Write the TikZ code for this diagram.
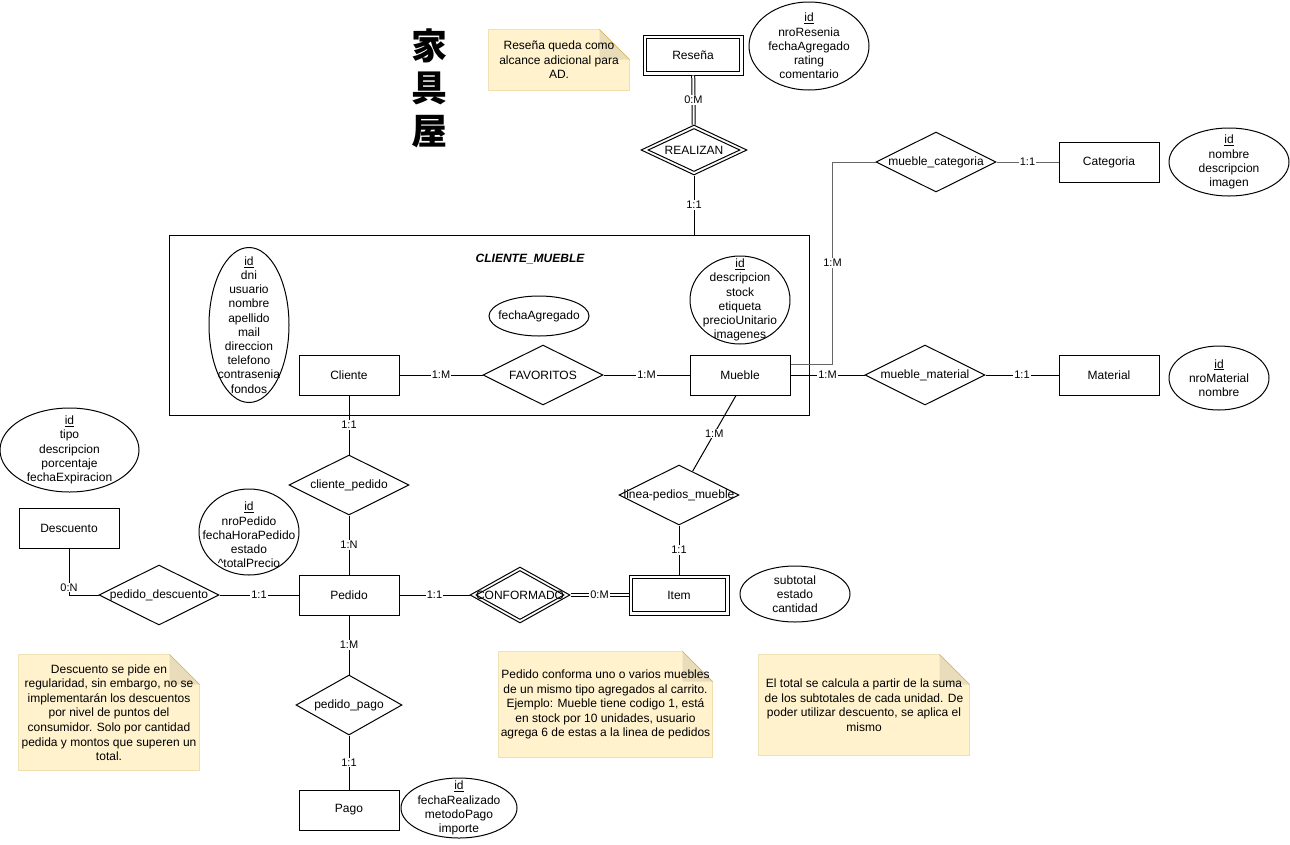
\documentclass[tikz,border=0pt]{standalone}
\usepackage{fontspec}
\setmainfont{Liberation Sans}
\newfontfamily\cjkfont{Noto Sans CJK JP}
\usetikzlibrary{shapes.geometric,backgrounds}
\definecolor{notefill}{HTML}{FFF2CC}
\definecolor{noteline}{HTML}{D6B656}
\definecolor{notefold}{HTML}{E8DCBA}
\definecolor{linkgray}{HTML}{666666}
\tikzset{
  every node/.style={font=\fontsize{12}{14}\selectfont},
  entity/.style={draw, minimum width=100pt, minimum height=40pt, inner sep=0pt},
  relation/.style={draw, diamond, inner sep=0pt, minimum width=120pt, minimum height=60pt},
  attrib/.style={draw, ellipse, inner sep=0pt},
  attrtext/.style={align=center, font=\fontsize{12}{14.2}\selectfont},
  card/.style={fill=white, inner sep=1pt, font=\fontsize{11}{13}\selectfont},
  notetext/.style={align=center, inner sep=0pt, font=\fontsize{12}{14.6}\selectfont},
  twin/.style={double, double distance=2pt},
}
% sticky-note outline with folded corner, drawn behind a named text node
\newcommand\notebox[1]{%
  \begin{scope}[on background layer]
    \filldraw[fill=notefill, draw=noteline] (#1.south west) -- (#1.north west)
      -- ([xshift=-30pt]#1.north east) -- ([yshift=-30pt]#1.north east)
      -- (#1.south east) -- cycle;
    \fill[notefold] ([xshift=-30pt]#1.north east) -- ([shift={(-30pt,-30pt)}]#1.north east)
      -- ([yshift=-30pt]#1.north east) -- cycle;
    \draw[noteline] ([xshift=-30pt]#1.north east) -- ([yshift=-30pt]#1.north east);
  \end{scope}}
\begin{document}
\begin{tikzpicture}[x=1pt, y=-1pt, line width=1pt]
\begin{scope}[on background layer]
  \path[fill=white] (0,0) rectangle (1290,844);
\end{scope}
\useasboundingbox (0,0) rectangle (1290,844);

% title
\node[font=\cjkfont\bfseries\fontsize{36}{42.5}\selectfont, align=center] (title) at (429,88) {家\\具\\屋};

% notes
\node[notetext, minimum width=140pt, minimum height=60pt] (nres) at (559,60)
  {Reseña queda como\\alcance adicional para\\AD.};
\notebox{nres}
\node[notetext, minimum width=180pt, minimum height=115pt] (ndesc) at (109,712.5)
  {Descuento se pide en\\regularidad, sin embargo, no se\\implementarán los descuentos\\por nivel de puntos del\\consumidor. Solo por cantidad\\pedida y montos que superen un\\total.};
\notebox{ndesc}
\node[notetext, minimum width=213pt, minimum height=105pt] (nped) at (605.5,704.5)
  {Pedido conforma uno o varios muebles\\de un mismo tipo agregados al carrito.\\Ejemplo: Mueble tiene codigo 1, está\\en stock por 10 unidades, usuario\\agrega 6 de estas a la linea de pedidos};
\notebox{nped}
\node[notetext, minimum width=210pt, minimum height=100pt] (ntot) at (864,705)
  {El total se calcula a partir de la suma\\de los subtotales de cada unidad. De\\poder utilizar descuento, se aplica el\\mismo};
\notebox{ntot}

% aggregation box
\node[draw, minimum width=640pt, minimum height=180pt, inner sep=0pt] (cm) at (489,325) {};
\node[font=\bfseries\itshape\fontsize{12}{14}\selectfont] (cmtitle) at (530,259) {CLIENTE\_MUEBLE};

% entities
\node[entity] (resena) at (693,55) {Reseña};
\draw ([shift={(4pt,-4pt)}]resena.north west) rectangle ([shift={(-4pt,4pt)}]resena.south east);
\node[entity] (cliente) at (349,375) {Cliente};
\node[entity] (mueble) at (740,375) {Mueble};
\node[entity] (categoria) at (1109,162) {Categoria};
\node[entity] (material) at (1109,375) {Material};
\node[entity] (descuento) at (69,528) {Descuento};
\node[entity] (pedido) at (349,595) {Pedido};
\node[entity] (item) at (679,595) {Item};
\draw ([shift={(4pt,-4pt)}]item.north west) rectangle ([shift={(-4pt,4pt)}]item.south east);
\node[entity] (pago) at (349,810) {Pago};

% relationships
\node[relation, minimum width=106pt, minimum height=50pt, label={center:REALIZAN}] (realizan) at (694,150) {};
\node[relation, minimum width=92pt, minimum height=43pt] (realizanin) at (realizan) {};
\node[relation, label={center:FAVORITOS}] (fav) at (543,375) {};
\node[relation, label={center:mueble\_categoria}] (mcat) at (936,162) {};
\node[relation, label={center:mueble\_material}] (mmat) at (925,375) {};
\node[relation, label={center:linea-pedios\_mueble}] (lpm) at (679,495) {};
\node[relation, label={center:cliente\_pedido}] (clped) at (349,485) {};
\node[relation, label={center:pedido\_descuento}] (pdesc) at (159,595) {};
\node[relation, minimum width=100pt, minimum height=56pt, label={center:CONFORMADO}] (conf) at (520,595) {};
\node[relation, minimum width=88pt, minimum height=49pt] (confin) at (conf) {};
\node[relation, minimum width=106pt, label={center:pedido\_pago}] (ppago) at (349,705) {};

% attributes
\node[attrib, minimum width=120pt, minimum height=88pt] (aresena) at (809,46) {};
\node[attrtext] (tresena) at (aresena) {\underline{id}\\nroResenia\\fechaAgregado\\rating\\comentario};
\node[attrib, minimum width=120pt, minimum height=68pt] (acat) at (1229,162) {};
\node[attrtext] (tcat) at (acat) {\underline{id}\\nombre\\descripcion\\imagen};
\node[attrib, minimum width=100pt, minimum height=64pt] (amat) at (1219,378) {};
\node[attrtext] (tmat) at (amat) {\underline{id}\\nroMaterial\\nombre};
\node[attrib, minimum width=100pt, minimum height=88pt] (amueble) at (740,300) {};
\node[attrtext] (tmueble) at (amueble) {\underline{id}\\descripcion\\stock\\etiqueta\\precioUnitario\\imagenes};
\node[attrib, minimum width=100pt, minimum height=40pt] (afecha) at (539,316) {};
\node[attrtext] (tfecha) at (afecha) {fechaAgregado};
\node[attrib, minimum width=80pt, minimum height=155pt] (acliente) at (249,325) {};
\node[attrtext] (tcliente) at (acliente) {\underline{id}\\dni\\usuario\\nombre\\apellido\\mail\\direccion\\telefono\\contrasenia\\fondos};
\node[attrib, minimum width=139pt, minimum height=84pt] (adesc) at (69.5,450) {};
\node[attrtext] (tdesc) at (adesc) {\underline{id}\\tipo\\descripcion\\porcentaje\\fechaExpiracion};
\node[attrib, minimum width=100pt, minimum height=86pt] (aped) at (249,532) {};
\node[attrtext] (taped) at ([yshift=-3pt]aped.center) {\underline{id}\\nroPedido\\fechaHoraPedido\\estado\\\textasciicircum totalPrecio};
\node[attrib, minimum width=110pt, minimum height=56pt] (aitem) at (795,594) {};
\node[attrtext] (titem) at (aitem) {subtotal\\estado\\cantidad};
\node[attrib, minimum width=116pt, minimum height=60pt] (apago) at (459,808) {};
\node[attrtext] (tpago) at (apago) {\underline{id}\\fechaRealizado\\metodoPago\\importe};

% connectors
\draw[twin] (resena) -- node[card]{0:M} (realizan);
\draw (realizan.south) -- node[card]{1:1} (realizan.south |- cm.north);
\draw (cliente) -- node[card]{1:M} (fav);
\draw (fav) -- node[card]{1:M} (mueble);
\draw (mueble) -- node[card]{1:M} (mmat);
\draw (mmat) -- node[card]{1:1} (material);
\draw[draw=linkgray] ([yshift=11pt]mueble.east) -- ++(42pt,0) |- node[card, pos=0.25]{1:M} (mcat.west);
\draw[draw=linkgray] (mcat) -- node[card]{1:1} (categoria);
\draw ([xshift=-4pt]mueble.south) -- node[card]{1:M} (lpm);
\draw (lpm) -- node[card]{1:1} (item);
\draw (cliente) -- node[card]{1:1} (clped);
\draw (clped) -- node[card]{1:N} (pedido);
\draw (descuento.south) |- node[card, pos=0.42]{0:N} (pdesc.west);
\draw (pdesc) -- node[card]{1:1} (pedido);
\draw (pedido) -- node[card]{1:1} (conf);
\draw[twin] (conf) -- node[card]{0:M} (item);
\draw (pedido) -- node[card]{1:M} (ppago);
\draw (ppago) -- node[card]{1:1} (pago);
\end{tikzpicture}
\end{document}
